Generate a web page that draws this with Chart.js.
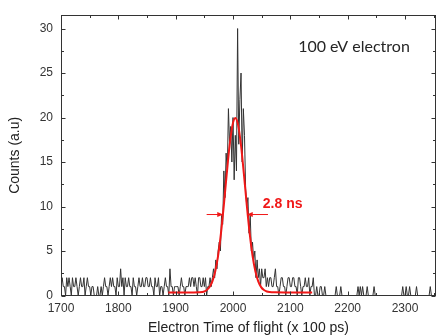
<!DOCTYPE html>
<html>
<head>
<meta charset="utf-8">
<script src="https://cdn.jsdelivr.net/npm/chart.js@4/dist/chart.umd.min.js"></script>
<style>
  html, body { margin: 0; padding: 0; background: #fff; }
  canvas { display: block; }
</style>
</head>
<body>
<canvas id="tofChart" width="437" height="335"></canvas>
<script>
// Electron TOF histogram, bins of 2 (x 100 ps) starting at 1700
const binStart = 1700
const binWidth = 2
const counts = [
  1,2,1,1,0,2,1,2,1,0,2,1,1,2,1,0,1,2,1,1,2,0,1,2,1,
  1,0,1,1,0,0,0,1,0,0,1,0,1,2,1,1,0,1,2,1,2,1,1,0,2,
  1,1,3,1,2,0,2,1,1,2,1,1,0,2,1,1,0,1,2,1,1,2,1,1,2,
  2,1,1,2,1,1,0,2,1,1,2,0,1,1,0,1,2,1,1,0,3,1,1,0,1,
  1,1,1,0,1,2,1,1,0,1,1,1,2,1,2,2,1,2,1,0,2,2,1,1,2,
  1,2,0,1,1,2,1,2,3,2,4,3,5,6,5,9,8,14,11,16,14,21,17,19,15,
  20,13,18,14,30,17,22,25,15,21,18,12,10,11,7,9,5,6,4,5,2,4,2,3,1,
  3,2,2,3,1,2,1,2,2,1,1,2,3,1,1,0,1,2,2,1,1,0,1,2,2,
  1,1,2,2,1,1,0,2,2,1,0,1,1,2,1,1,2,0,1,1,2,0,0,1,0,
  0,1,1,0,0,1,0,0,0,0,0,0,0,0,0,1,0,0,0,1,0,0,0,0,0,
  0,0,0,0,0,0,0,0,0,1,0,1,0,1,0,0,0,1,0,0,0,0,0,1,0,
  0,0,0,0,0,0,0,0,0,0,0,0,0,0,0,0,0,0,0,0,0,0,0,1,0,
  0,1,0,0,1,0,0,0,0,0,1,0,0,0,0,0,0,0,0,0,0,0,1,0,0,0,0,0
]

// red fit curve
const fitX = [1887,1900,1920,1940,1950,1955,1960,1964,1969,1974,1979,1984,1989,1994,1999,2004,
              2009,2014,2019,2024,2029,2034,2039,2044,2049,2054,2059,2064,2074,2090,2110,2138]
const fitY = [0.35,0.35,0.35,0.37,0.45,0.66,1.04,1.58,2.71,4.48,7.0,10.16,13.63,16.84,19.12,19.95,
              19.12,16.84,13.63,10.16,7.0,4.48,2.71,1.58,0.94,0.61,0.45,0.39,0.36,0.35,0.35,0.35]

const xTicks = [1700, 1800, 1900, 2000, 2100, 2200, 2300]
const xMinor = [1750, 1850, 1950, 2050, 2150, 2250, 2350]
const yTicks = [0, 5, 10, 15, 20, 25, 30]
const yMinor = [2.5, 7.5, 12.5, 17.5, 22.5, 27.5]

// FWHM arrows: [from x, to x (tip), y]
const arrows = [[1954, 1983, 9.1], [2061, 2024, 9.1]]
const widthLabel = { text: "2.8 ns", x: 2052, y: 10.3 }
const titleLabel = { text: "100 eV electron", x: 2211, y: 28 }

const sansFamily = "Liberation Sans, Arial, sans-serif"
const tickFont = { family: sansFamily, size: 12 }
const axisColor = "#333"

const framePlugin = {
  id: "frame",
  afterDatasetsDraw(chart) {
    const { ctx, chartArea: a, scales: { x, y } } = chart
    const L = Math.round(a.left) + 0.5, R = Math.round(a.right) - 0.5
    const T = Math.round(a.top) + 0.5, B = Math.round(a.bottom) - 0.5
    ctx.save()
    ctx.strokeStyle = axisColor
    ctx.lineWidth = 1
    ctx.strokeRect(L, T, R - L, B - T)

    // inward ticks on all four sides
    ctx.beginPath()
    const xt = (v, len) => {
      const px = Math.round(x.getPixelForValue(v)) + 0.5
      ctx.moveTo(px, B); ctx.lineTo(px, B - len)
      ctx.moveTo(px, T); ctx.lineTo(px, T + len)
    }
    const yt = (v, len) => {
      const py = Math.round(y.getPixelForValue(v)) + 0.5
      ctx.moveTo(L, py); ctx.lineTo(L + len, py)
      ctx.moveTo(R, py); ctx.lineTo(R - len, py)
    }
    xTicks.forEach(v => xt(v, 4))
    xMinor.forEach(v => xt(v, 2.5))
    yTicks.forEach(v => yt(v, 4))
    yMinor.forEach(v => yt(v, 2.5))
    ctx.stroke()

    // FWHM arrows
    ctx.strokeStyle = "#f01818"
    ctx.fillStyle = "#f01818"
    ctx.lineWidth = 1
    arrows.forEach(([x0, x1, yv]) => {
      const p0 = x.getPixelForValue(x0), p1 = x.getPixelForValue(x1)
      const py = y.getPixelForValue(yv)
      const dir = Math.sign(p1 - p0)
      ctx.beginPath()
      ctx.moveTo(p0, py); ctx.lineTo(p1 - dir * 4, py)
      ctx.stroke()
      ctx.beginPath()
      ctx.moveTo(p1, py)
      ctx.lineTo(p1 - dir * 6, py - 2.5)
      ctx.lineTo(p1 - dir * 6, py + 2.5)
      ctx.closePath()
      ctx.fill()
    })

    ctx.font = "bold 14px " + sansFamily
    ctx.textAlign = "left"
    ctx.textBaseline = "middle"
    ctx.fillText(widthLabel.text, x.getPixelForValue(widthLabel.x), y.getPixelForValue(widthLabel.y))

    ctx.fillStyle = "#262626"
    ctx.font = "16px Lato, 'Open Sans', sans-serif"
    ctx.textAlign = "center"
    ctx.fillText(titleLabel.text, x.getPixelForValue(titleLabel.x), y.getPixelForValue(titleLabel.y))
    ctx.restore()
  }
}

new Chart(document.getElementById("tofChart"), {
  type: "line",
  data: {
    datasets: [
      {
        label: "Gaussian fit",
        data: fitX.map((v, i) => ({ x: v, y: fitY[i] })),
        borderColor: "#f01818",
        borderWidth: 2,
        pointRadius: 0,
        cubicInterpolationMode: "monotone",
        order: 0,
      },
      {
        label: "Counts",
        data: counts.map((c, i) => ({ x: binStart + i * binWidth, y: c })),
        borderColor: "#333",
        borderWidth: 1,
        pointRadius: 0,
        tension: 0,
        order: 1,
      },
    ],
  },
  options: {
    responsive: false,
    animation: false,
    devicePixelRatio: 1,
    layout: { padding: { top: 13, right: 1, left: 0, bottom: 0 } },
    plugins: { legend: { display: false }, tooltip: { enabled: false } },
    scales: {
      x: {
        type: "linear",
        min: 1700,
        max: 2354,
        afterFit: (s) => { s.height = 39.5 },
        afterBuildTicks: (s) => { s.ticks = xTicks.map(v => ({ value: v })) },
        grid: { display: false, drawTicks: false },
        border: { display: false },
        ticks: { padding: 6, font: tickFont, color: axisColor, maxRotation: 0, callback: (v) => String(v) },
        title: {
          display: true,
          text: "Electron Time of flight (x 100 ps)",
          color: "#222",
          font: { family: sansFamily, size: 14, lineHeight: 1 },
          padding: { top: 0, bottom: 0 },
        },
      },
      y: {
        type: "linear",
        min: 0,
        max: 31.5,
        afterFit: (s) => { s.width = 61 },
        afterBuildTicks: (s) => { s.ticks = yTicks.map(v => ({ value: v })) },
        grid: { display: false, drawTicks: false },
        border: { display: false },
        ticks: { padding: 8, font: tickFont, color: axisColor, callback: (v) => String(v) },
        title: {
          display: true,
          text: "Counts (a.u)",
          color: "#222",
          font: { family: sansFamily, size: 14, lineHeight: 1 },
          padding: { top: 8, bottom: 0 },
        },
      },
    },
  },
  plugins: [framePlugin],
})
</script>
</body>
</html>
